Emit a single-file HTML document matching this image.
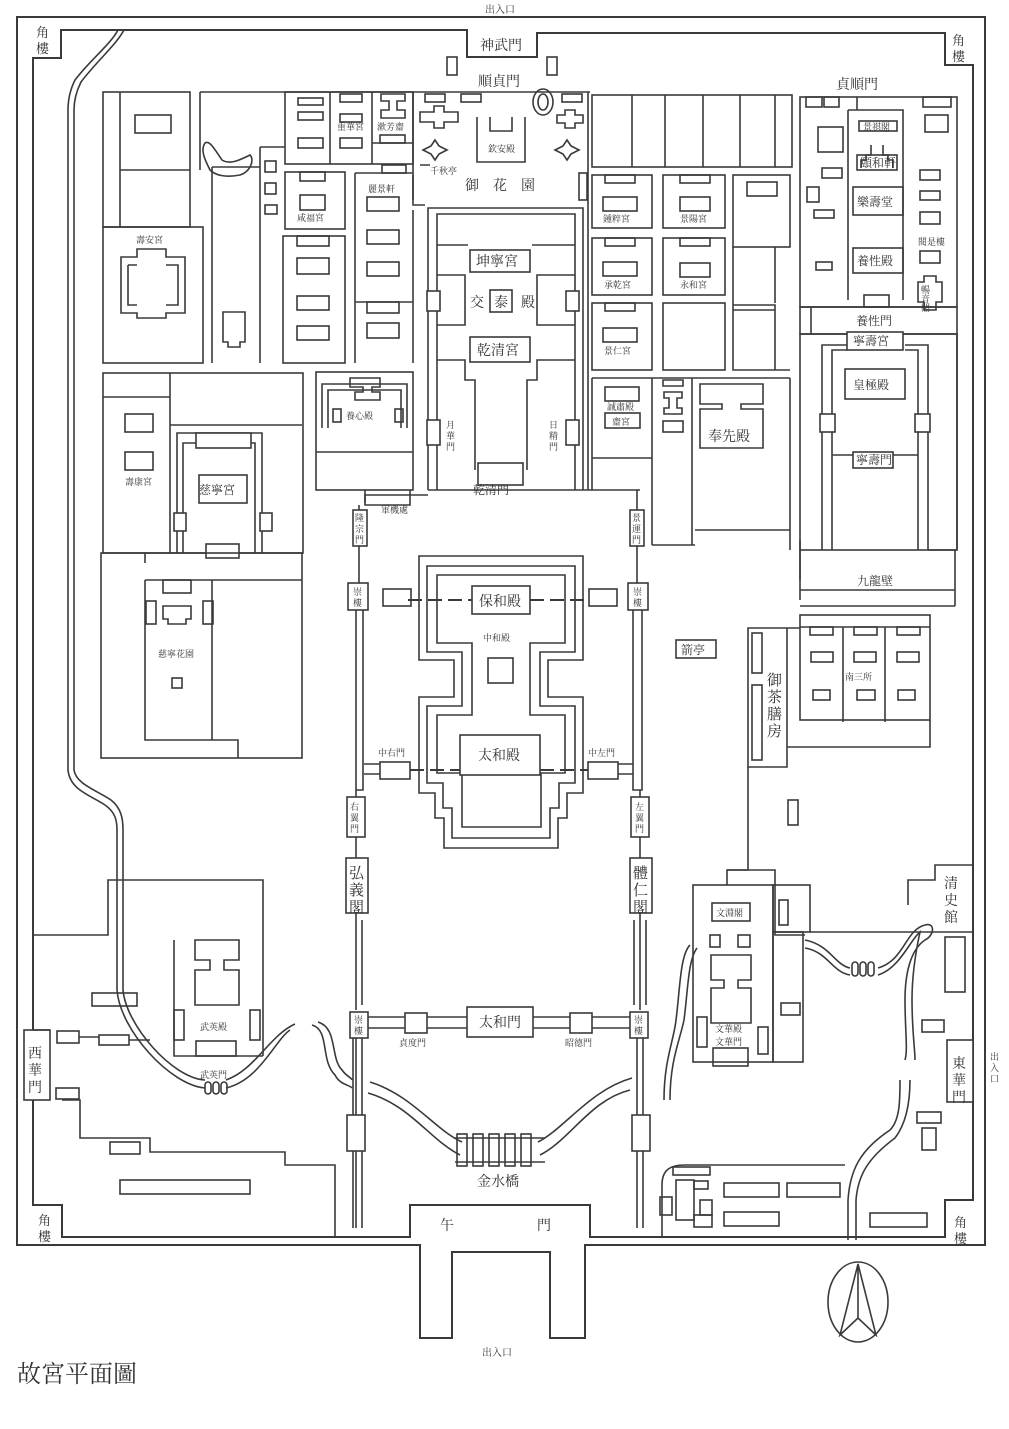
<!DOCTYPE html>
<html><head><meta charset="utf-8">
<style>
html,body{margin:0;padding:0;background:#fff;}
svg{display:block;}
text{font-family:"Liberation Serif","Noto Serif CJK SC","Noto Sans CJK TC",serif;fill:#333;}
</style></head><body>
<svg width="1009" height="1429" viewBox="0 0 1009 1429" xmlns="http://www.w3.org/2000/svg">
<g fill="none" stroke="#3a3a3a" stroke-width="1.6">
<!-- outer wall -->
<path d="M17,17 H985 V1245 H585 V1338 H550 V1252 H452 V1338 H420 V1245 H17 Z" stroke-width="2"/>
<!-- inner wall -->
<path d="M33,58 H61 V30 H467 V57 H537 V33 H945 V65 H973 V1200 H945 V1237 H590 V1205 H410 V1237 H62 V1205 H33 Z" stroke-width="2"/>
<!-- west/east gates -->
<rect x="24" y="1030" width="26" height="70" fill="#fff"/>
<rect x="947" y="1040" width="26" height="62" fill="#fff"/>
<!-- west water channel -->
<path d="M118,30 C110,45 90,60 75,80 C70,90 68,100 68,110 V770 C70,790 90,795 105,805 C115,812 117,820 117,830 V990 C120,1030 170,1085 205,1088"/>
<path d="M124,30 C116,45 96,62 81,82 C76,92 74,100 74,110 V770 C76,784 96,790 111,800 C121,808 123,818 123,830 V990 C126,1025 172,1078 205,1080"/>
<path d="M226,1088 C260,1080 275,1040 290,1030 M226,1080 C255,1070 270,1035 295,1024"/>
<path d="M312,1025 C330,1030 320,1060 335,1075 C340,1085 350,1085 352,1088 M318,1022 C338,1028 330,1058 342,1070 C346,1076 352,1078 352,1080"/>
<rect x="205" y="1082" width="6" height="12" rx="3"/><rect x="213" y="1082" width="6" height="12" rx="3"/><rect x="221" y="1082" width="6" height="12" rx="3"/>
<!-- golden river -->
<path d="M368,1093 C410,1105 430,1140 460,1155 M370,1082 C412,1095 435,1130 462,1142"/>
<path d="M630,1090 C590,1100 570,1140 540,1155 M632,1078 C590,1090 565,1128 538,1142"/>
<path d="M455,1138 h90 M455,1162 h90"/>
<rect x="457" y="1134" width="10" height="32"/><rect x="473" y="1134" width="10" height="32"/><rect x="489" y="1134" width="10" height="32"/><rect x="505" y="1134" width="10" height="32"/><rect x="521" y="1134" width="10" height="32"/>
<!-- east water channels -->
<path d="M690,945 C680,955 680,990 676,1020 C674,1040 664,1060 664,1100 M697,948 C688,960 688,990 684,1020 C680,1040 670,1060 670,1100"/>
<path d="M805,940 C830,945 835,965 850,968 M805,948 C828,952 832,972 850,975"/>
<path d="M878,968 C905,960 905,930 925,925 C935,922 935,935 925,940 C910,950 905,975 905,1000 C905,1030 908,1050 905,1060 M878,975 C900,968 910,940 920,932 C915,955 912,980 912,1000 C912,1030 915,1050 915,1060"/>
<path d="M900,1080 C900,1100 900,1120 890,1130 C860,1150 850,1170 848,1200 V1240 M910,1080 C910,1105 905,1125 895,1138 C868,1158 858,1175 856,1200 V1240"/>
<rect x="852" y="962" width="6" height="14" rx="3"/><rect x="860" y="962" width="6" height="14" rx="3"/><rect x="868" y="962" width="6" height="14" rx="3"/>

<!-- north top small things -->
<rect x="447" y="57" width="10" height="18"/><rect x="547" y="57" width="10" height="18"/>
<!-- imperial garden frame -->
<path d="M200,92 H590 M200,92 V170"/>
<ellipse cx="543" cy="102" rx="10" ry="13"/><ellipse cx="543" cy="102" rx="5" ry="8"/>
<rect x="425" y="94" width="20" height="8"/><rect x="461" y="94" width="20" height="8"/><rect x="562" y="94" width="20" height="8"/>
<path d="M420,112 h14 v-6 h10 v6 h14 v10 h-14 v6 h-10 v-6 h-14z"/>
<path d="M557,115 h8 v-5 h10 v5 h8 v8 h-8 v5 h-10 v-5 h-8z"/>
<path d="M423,150 l8,-4 l4,-6 l4,6 l8,4 l-8,4 l-4,6 l-4,-6 z"/>
<path d="M555,150 l8,-4 l4,-6 l4,6 l8,4 l-8,4 l-4,6 l-4,-6 z"/>
<path d="M477,117 V162 H525 V117 M490,117 v14 h22 v-14"/>
<rect x="579" y="173" width="8" height="27"/>
<path d="M413,92 V200 M413,210 V363 M588,92 V490"/>
<!-- pond -->
<path d="M205,143 C210,140 215,150 222,160 C230,165 240,160 250,155 C255,160 250,172 240,175 C225,178 215,175 210,170 C205,160 200,150 205,143 Z"/>
<!-- west blocks -->
<rect x="103" y="92" width="87" height="135"/>
<path d="M120,92 V227 M120,170 H190"/>
<rect x="135" y="115" width="36" height="18"/>
<rect x="103" y="227" width="100" height="136"/>
<path d="M121,257 h16 v-8 h29 v8 h19 v56 h-19 v5 h-29 v-5 h-16 z"/>
<path d="M128,265 h9 M166,265 h12 v40 h-12 M137,305 h-9 v-40"/>
<path d="M212,167 V363 M212,167 H260 M260,147 V363 M260,147 H285"/>
<path d="M223,312 h22 v30 h-5 v5 h-12 v-5 h-5 z"/>
<rect x="265" y="161" width="11" height="11"/><rect x="265" y="183" width="11" height="11"/><rect x="265" y="205" width="12" height="9"/>
<rect x="285" y="92" width="128" height="72"/>
<path d="M330,92 V164 M372,92 V164 M372,143 H413"/>
<rect x="298" y="98" width="25" height="7"/><rect x="298" y="112" width="25" height="8"/><rect x="298" y="138" width="25" height="10"/>
<rect x="340" y="94" width="22" height="8"/><rect x="340" y="114" width="22" height="8"/><rect x="340" y="138" width="22" height="10"/>
<path d="M381,94 h24 v7 h-8 v9 h8 v8 h-24 v-8 h8 v-9 h-8 z"/>
<rect x="380" y="135" width="25" height="8"/>
<rect x="285" y="172" width="60" height="57"/><rect x="300" y="172" width="25" height="9"/><rect x="300" y="195" width="25" height="15"/>
<path d="M355,173 H413 M355,173 V363 M420,165 h10 M413,175 v30 h12"/>
<rect x="382" y="165" width="24" height="8"/>
<rect x="367" y="197" width="32" height="14"/><rect x="367" y="230" width="32" height="14"/><rect x="367" y="262" width="32" height="14"/>
<path d="M355,302 H413"/>
<rect x="367" y="302" width="32" height="11"/><rect x="367" y="323" width="32" height="15"/>
<rect x="283" y="236" width="62" height="127"/>
<rect x="297" y="236" width="32" height="10"/><rect x="297" y="258" width="32" height="16"/><rect x="297" y="296" width="32" height="14"/><rect x="297" y="326" width="32" height="14"/>
<!-- yangxin -->
<rect x="316" y="372" width="97" height="118"/>
<path d="M322,428 V384 H407 V428 M328,428 V390 H401 V428 M316,452 H413"/>
<path d="M350,378 h30 v9 h-8 v5 h8 v8 h-25 v-8 h8 v-5 h-13 z"/>
<rect x="333" y="409" width="8" height="13"/><rect x="395" y="409" width="8" height="13"/>
<path d="M365,490 V505 H410 V490"/>
<!-- west lower -->
<rect x="103" y="373" width="200" height="180"/>
<path d="M103,397 H170 M170,373 V553 M170,425 H302"/>
<rect x="125" y="414" width="28" height="18"/><rect x="125" y="452" width="28" height="18"/>
<path d="M177,553 V433 H262 V553 M183,553 V443 H255 V553"/>
<rect x="196" y="433" width="55" height="15" fill="#fff"/>
<rect x="199" y="475" width="48" height="28"/>
<rect x="174" y="513" width="12" height="18" fill="#fff"/><rect x="260" y="513" width="12" height="18" fill="#fff"/>
<rect x="206" y="544" width="33" height="14" fill="#fff"/>
<rect x="101" y="553" width="201" height="205"/>
<path d="M145,580 V740 H238 V758 M212,580 V740 M145,580 H302 M145,553 v10"/>
<rect x="163" y="580" width="28" height="13"/><rect x="146" y="601" width="10" height="23"/><rect x="203" y="601" width="10" height="23"/>
<path d="M163,606 h28 v13 h-5 v5 h-18 v-5 h-5 z"/>
<rect x="172" y="678" width="10" height="10"/>
<!-- inner court -->
<path d="M428,490 V208 H583 V490 M437,490 V214 H575 V490 M428,490 H583"/>
<path d="M437,245 H468 M532,245 H575 M437,275 H465 V325 H437 M575,275 H537 V325 H575"/>
<rect x="470" y="250" width="60" height="22"/><rect x="490" y="290" width="22" height="22"/><rect x="470" y="337" width="60" height="25"/>
<path d="M437,360 H465 V380 H475 V470 M575,360 H537 V380 H527 V470"/>
<rect x="427" y="291" width="13" height="20" fill="#fff"/><rect x="566" y="291" width="13" height="20" fill="#fff"/>
<rect x="427" y="420" width="13" height="25" fill="#fff"/><rect x="566" y="420" width="13" height="25" fill="#fff"/>
<rect x="478" y="463" width="45" height="22" fill="#fff"/>
<path d="M365,503 V495 H428 M583,490 H640"/>
<!-- east six palaces -->
<rect x="592" y="95" width="200" height="72"/>
<path d="M632,95 V167 M665,95 V167 M703,95 V167 M740,95 V167 M775,95 V167"/>
<rect x="592" y="175" width="60" height="53"/><rect x="663" y="175" width="62" height="53"/><rect x="733" y="175" width="57" height="72"/>
<rect x="605" y="175" width="30" height="8"/><rect x="603" y="197" width="34" height="14"/>
<rect x="680" y="175" width="30" height="8"/><rect x="680" y="197" width="30" height="14"/>
<rect x="747" y="182" width="30" height="14"/>
<rect x="592" y="238" width="60" height="57"/><rect x="663" y="238" width="62" height="57"/>
<rect x="605" y="238" width="30" height="8"/><rect x="603" y="262" width="34" height="14"/>
<rect x="680" y="238" width="30" height="8"/><rect x="680" y="263" width="30" height="14"/>
<rect x="592" y="303" width="60" height="67"/><rect x="663" y="303" width="62" height="67"/>
<rect x="605" y="303" width="30" height="8"/><rect x="603" y="328" width="34" height="14"/>
<path d="M733,247 V370 H790 M733,305 H775 V370 M733,310 H775 M775,247 V303"/>
<path d="M592,378 H790 M652,378 V545 M692,378 V545 M790,378 V550 M592,378 V490 M592,458 H652"/>
<rect x="605" y="387" width="34" height="14"/><rect x="605" y="413" width="35" height="15"/>
<path d="M663,380 h20 v6 h-20 z M664,392 h18 v6 h-5 v10 h5 v6 h-18 v-6 h5 v-10 h-5 z"/>
<rect x="663" y="421" width="20" height="11"/>
<path d="M700,384 h63 v20 h-22 v5 h22 v39 h-63 v-39 h22 v-5 h-22 z"/>
<path d="M695,530 H790 M652,545 H695"/>
<!-- ningshou -->
<rect x="800" y="97" width="157" height="210"/>
<path d="M857,97 V110 M857,110 H903 V300 M848,110 V300 M848,110 H857"/>
<rect x="806" y="97" width="16" height="10"/><rect x="824" y="97" width="15" height="10"/><rect x="923" y="97" width="28" height="10"/>
<rect x="818" y="127" width="25" height="25"/><rect x="925" y="115" width="23" height="17"/>
<rect x="859" y="121" width="38" height="10"/>
<path d="M861,168 v-8 h5 v-5 h5 v-10 M893,168 v-8 h-5 v-5 h-5 v-10"/>
<rect x="857" y="155" width="40" height="15"/>
<rect x="822" y="168" width="20" height="10"/><rect x="807" y="187" width="12" height="15"/><rect x="814" y="210" width="20" height="8"/><rect x="816" y="262" width="16" height="8"/>
<rect x="853" y="187" width="50" height="28"/><rect x="853" y="248" width="50" height="25"/>
<rect x="920" y="170" width="20" height="10"/><rect x="920" y="191" width="20" height="9"/><rect x="920" y="212" width="20" height="12"/><rect x="920" y="251" width="20" height="12"/>
<path d="M918,282 h6 v-6 h12 v6 h6 v20 h-6 v8 h-12 v-8 h-6 z"/>
<rect x="864" y="295" width="25" height="12"/>
<rect x="800" y="307" width="157" height="27"/>
<path d="M811,307 V334"/>
<rect x="800" y="334" width="157" height="216"/>
<path d="M822,550 V345 H847 M905,345 H928 V550 M832,550 V350 H847 M905,350 H918 V550 M832,455 H853 M893,455 H918 M928,550 H957 M957,334 V550 M800,550 V600"/>
<rect x="847" y="332" width="56" height="18" fill="#fff"/>
<rect x="845" y="369" width="60" height="30"/>
<rect x="820" y="414" width="15" height="18" fill="#fff"/><rect x="915" y="414" width="15" height="18" fill="#fff"/>
<rect x="853" y="452" width="40" height="16" fill="#fff"/>
<path d="M800,590 H955 M800,606 H955 M955,550 V606"/>
<rect x="800" y="615" width="130" height="105"/>
<path d="M843,627 V722 M885,627 V722 M800,627 H930"/>
<rect x="810" y="627" width="23" height="8"/><rect x="854" y="627" width="23" height="8"/><rect x="897" y="627" width="23" height="8"/>
<rect x="811" y="652" width="22" height="10"/><rect x="854" y="652" width="22" height="10"/><rect x="897" y="652" width="22" height="10"/>
<rect x="813" y="690" width="17" height="10"/><rect x="857" y="690" width="18" height="10"/><rect x="898" y="690" width="17" height="10"/>
<path d="M787,628 H800 M787,747 H930 V720 M787,628 V767 H748 V628 H787"/>
<rect x="752" y="633" width="10" height="40"/><rect x="752" y="685" width="10" height="75"/>
<rect x="788" y="800" width="10" height="25"/>
<rect x="676" y="640" width="40" height="18"/>
<path d="M748,767 V870 H727 V885 M800,540 V580"/>
<!-- outer court -->
<path d="M419,556 H583 V660 H548 V697 H583 V793 H567 V818 H558 V848 H444 V818 H435 V793 H419 V697 H454 V660 H419 Z"/>
<path d="M427,566 H575 V652 H540 V706 H575 V783 H559 V808 H550 V838 H452 V808 H443 V783 H427 V706 H462 V652 H427 Z"/>
<path d="M437,575 H565 V643 H530 V715 H565 V773 H541 V827 H462 V773 H437 V715 H472 V643 H437 Z"/>
<rect x="472" y="586" width="58" height="28" fill="#fff"/>
<rect x="488" y="658" width="25" height="25"/>
<rect x="460" y="735" width="80" height="40" fill="#fff"/>
<path d="M408,600 H472 M530,600 H590 M410,770 H460 M540,770 H588" stroke-dasharray="14,6" stroke-width="2"/>
<rect x="383" y="589" width="28" height="17"/><rect x="589" y="589" width="28" height="17"/>
<!-- west corridor -->
<path d="M359,505 V510 M359,545 V583 M356,610 V790 H363 V610"/>
<rect x="353" y="510" width="14" height="36" fill="#fff"/>
<rect x="348" y="583" width="20" height="27" fill="#fff"/>
<path d="M364,764 H380 M364,774 H380"/>
<rect x="380" y="762" width="30" height="17" fill="#fff"/>
<rect x="347" y="797" width="18" height="40" fill="#fff"/>
<path d="M356,790 V797 M356,837 V858 M356,913 V1010 M356,1038 V1115 M356,1150 V1228 M362,920 V1005 M362,1038 V1115 M362,1150 V1228 M353,1038 V1228"/>
<rect x="346" y="858" width="22" height="55" fill="#fff"/>
<rect x="350" y="1012" width="18" height="26" fill="#fff"/>
<rect x="347" y="1115" width="18" height="36" fill="#fff"/>
<!-- east corridor -->
<path d="M637,490 V510 M637,545 V583 M633,610 V790 H642 V610"/>
<rect x="630" y="510" width="14" height="36" fill="#fff"/>
<rect x="628" y="583" width="20" height="27" fill="#fff"/>
<path d="M618,764 H633 M618,774 H633"/>
<rect x="588" y="762" width="30" height="17" fill="#fff"/>
<rect x="631" y="797" width="18" height="40" fill="#fff"/>
<path d="M640,790 V797 M640,837 V858 M640,913 V1010 M637,1038 V1115 M643,1038 V1115 M637,1150 V1228 M643,1150 V1228 M634,920 V1005 M646,920 V1005"/>
<rect x="630" y="858" width="22" height="55" fill="#fff"/>
<rect x="630" y="1012" width="18" height="26" fill="#fff"/>
<rect x="632" y="1115" width="18" height="36" fill="#fff"/>
<!-- taihemen -->
<path d="M368,1017 H630 M368,1028 H630"/>
<rect x="405" y="1013" width="22" height="20" fill="#fff"/>
<rect x="467" y="1007" width="66" height="30" fill="#fff"/>
<rect x="570" y="1013" width="22" height="20" fill="#fff"/>
<!-- wuying -->
<path d="M33,935 H108 V880 H263 V1056 M33,1030 H50"/>
<path d="M174,940 V1056 H263"/>
<rect x="174" y="1010" width="10" height="30"/><rect x="250" y="1010" width="10" height="30"/>
<rect x="196" y="1041" width="40" height="15"/>
<path d="M195,940 h44 v20 h-15 v10 h15 v35 h-44 v-35 h15 v-10 h-15 z"/>
<rect x="92" y="993" width="45" height="13"/>
<rect x="57" y="1031" width="22" height="12"/><rect x="99" y="1035" width="30" height="10"/>
<path d="M79,1037 H99 M129,1040 H150"/>
<rect x="56" y="1088" width="23" height="11"/>
<path d="M62,1100 H80 V1138 H150 V1152 H285 V1165 H335 V1237"/>
<rect x="110" y="1142" width="30" height="12"/>
<rect x="120" y="1180" width="130" height="14"/>
<!-- wenhua -->
<path d="M727,870 H775 V935 H805 V935 M908,905 V880 H935 V865 H973"/>
<rect x="693" y="885" width="80" height="177"/>
<rect x="773" y="885" width="37" height="47"/><rect x="773" y="932" width="30" height="130"/>
<rect x="779" y="900" width="9" height="25"/>
<rect x="781" y="1003" width="19" height="12"/>
<rect x="712" y="903" width="38" height="18"/>
<rect x="710" y="935" width="10" height="12"/><rect x="738" y="935" width="12" height="12"/>
<path d="M711,955 h40 v25 h-13 v8 h13 v35 h-40 v-35 h13 v-8 h-13 z"/>
<rect x="697" y="1017" width="10" height="30"/><rect x="758" y="1027" width="10" height="27"/>
<rect x="713" y="1048" width="35" height="18"/>
<path d="M810,932 H973"/>
<rect x="945" y="937" width="20" height="55"/><rect x="922" y="1020" width="22" height="12"/>
<rect x="917" y="1112" width="24" height="11"/><rect x="922" y="1128" width="14" height="22"/>
<path d="M662,1237 V1185 C662,1170 670,1165 685,1165 H845"/>
<rect x="673" y="1167" width="37" height="8"/>
<rect x="676" y="1180" width="18" height="40"/><rect x="694" y="1181" width="14" height="8"/>
<rect x="660" y="1197" width="12" height="18"/><rect x="700" y="1200" width="12" height="15"/><rect x="694" y="1215" width="18" height="12"/>
<rect x="724" y="1183" width="55" height="14"/><rect x="787" y="1183" width="53" height="14"/>
<rect x="724" y="1212" width="55" height="14"/><rect x="870" y="1213" width="57" height="14"/>
<!-- compass -->
<ellipse cx="858" cy="1302" rx="30" ry="40"/>
<path d="M858,1264 L840,1335 L858,1318 L876,1335 Z M858,1264 V1318"/>
</g>

<!-- labels -->
<g font-size="10">
<text x="500" y="13" text-anchor="middle">出入口</text>
<text x="497" y="1356" text-anchor="middle">出入口</text>
<text x="990" y="1060" font-size="9">出</text><text x="990" y="1071" font-size="9">入</text><text x="990" y="1082" font-size="9">口</text>
</g>
<g font-size="13">
<text x="36" y="37">角</text><text x="36" y="53">樓</text>
<text x="952" y="45">角</text><text x="952" y="61">樓</text>
<text x="38" y="1225">角</text><text x="38" y="1241">樓</text>
<text x="954" y="1227">角</text><text x="954" y="1243">樓</text>
<text x="480" y="50" font-size="14">神武門</text>
<text x="478" y="86" font-size="14">順貞門</text>
<text x="836" y="89" font-size="14">貞順門</text>
<text x="28" y="1058" font-size="14">西</text><text x="28" y="1075" font-size="14">華</text><text x="28" y="1092" font-size="14">門</text>
<text x="952" y="1068" font-size="14">東</text><text x="952" y="1085" font-size="14">華</text><text x="952" y="1102" font-size="14">門</text>
<text x="944" y="888" font-size="14">清</text><text x="944" y="905" font-size="14">史</text><text x="944" y="922" font-size="14">館</text>
</g>
<g font-size="9">
<text x="337" y="130">重華宮</text><text x="377" y="130">漱芳齋</text>
<text x="430" y="174">千秋亭</text>
<text x="488" y="152">欽安殿</text>
<text x="297" y="221">咸福宮</text><text x="368" y="192">麗景軒</text>
<text x="136" y="243">壽安宮</text><text x="125" y="485">壽康宮</text>
<text x="346" y="419">養心殿</text><text x="381" y="513">軍機處</text>
<text x="158" y="657">慈寧花園</text>
<text x="603" y="222">鍾粹宮</text><text x="680" y="222">景陽宮</text>
<text x="604" y="288">承乾宮</text><text x="680" y="288">永和宮</text>
<text x="604" y="354">景仁宮</text>
<text x="607" y="410">誠肅殿</text><text x="612" y="425">齋宮</text>
<text x="863" y="130">景祺閣</text>
<text x="918" y="245">閱是樓</text>
<text x="483" y="641">中和殿</text>
<text x="378" y="756">中右門</text><text x="588" y="756">中左門</text>
<text x="399" y="1046">貞度門</text><text x="565" y="1046">昭德門</text>
<text x="200" y="1030">武英殿</text><text x="200" y="1078">武英門</text>
<text x="716" y="916">文淵閣</text><text x="715" y="1032">文華殿</text><text x="715" y="1045">文華門</text>
<text x="446" y="428">月</text><text x="446" y="439">華</text><text x="446" y="450">門</text>
<text x="549" y="428">日</text><text x="549" y="439">精</text><text x="549" y="450">門</text>
<text x="355" y="521">隆</text><text x="355" y="532">宗</text><text x="355" y="543">門</text>
<text x="632" y="521">景</text><text x="632" y="532">運</text><text x="632" y="543">門</text>
<text x="353" y="595">崇</text><text x="353" y="606">樓</text>
<text x="633" y="595">崇</text><text x="633" y="606">樓</text>
<text x="350" y="810">右</text><text x="350" y="821">翼</text><text x="350" y="832">門</text>
<text x="635" y="810">左</text><text x="635" y="821">翼</text><text x="635" y="832">門</text>
<text x="354" y="1023">崇</text><text x="354" y="1034">樓</text>
<text x="634" y="1023">崇</text><text x="634" y="1034">樓</text>
<text x="921" y="293">暢</text><text x="921" y="302">音</text><text x="921" y="311">閣</text>
<text x="845" y="680">南三所</text>
</g>
<g font-size="12">
<text x="860" y="167">頤和軒</text>
<text x="857" y="206">樂壽堂</text>
<text x="857" y="265">養性殿</text>
<text x="856" y="325">養性門</text>
<text x="853" y="345">寧壽宮</text>
<text x="853" y="389">皇極殿</text>
<text x="856" y="464">寧壽門</text>
<text x="857" y="585">九龍壁</text>
<text x="681" y="654">箭亭</text>
<text x="199" y="494">慈寧宮</text>
<text x="473" y="494">乾清門</text>
</g>
<g font-size="14">
<text x="465" y="190">御　花　園</text>
<text x="476" y="266">坤寧宮</text>
<text x="470" y="307">交</text><text x="494" y="307">泰</text><text x="521" y="307">殿</text>
<text x="477" y="355">乾清宮</text>
<text x="479" y="606">保和殿</text>
<text x="478" y="760">太和殿</text>
<text x="479" y="1027">太和門</text>
<text x="708" y="441">奉先殿</text>
<text x="477" y="1186">金水橋</text>
<text x="440" y="1230">午</text><text x="537" y="1230">門</text>
</g>
<g font-size="15">
<text x="349" y="878">弘</text><text x="349" y="895">義</text><text x="349" y="912">閣</text>
<text x="633" y="878">體</text><text x="633" y="895">仁</text><text x="633" y="912">閣</text>
<text x="767" y="685">御</text><text x="767" y="702">茶</text><text x="767" y="719">膳</text><text x="767" y="736">房</text>
</g>
<text x="17" y="1382" font-size="24">故宮平面圖</text>
</svg>
</body></html>
